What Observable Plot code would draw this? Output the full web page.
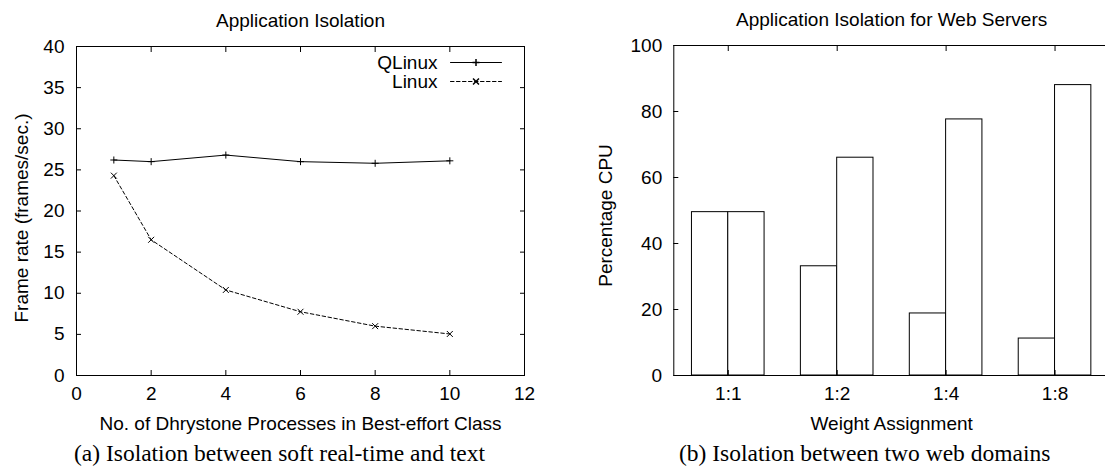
<!DOCTYPE html>
<html><head><meta charset="utf-8">
<script src="https://cdn.jsdelivr.net/npm/d3@7"></script>
<script src="https://cdn.jsdelivr.net/npm/@observablehq/plot@0.6"></script>
<style>
html,body{margin:0;padding:0;background:#fff;overflow:hidden;}
#wrap{position:relative;width:1105px;height:469px;overflow:hidden;background:#fff;}
#a,#b{position:absolute;top:0;width:560px;height:469px;}
#a{left:0;} #b{left:560px;}
#a svg,#b svg{max-width:none !important;display:block;}
</style></head><body><div id="wrap"><div id="a"></div><div id="b"></div></div>
<script>
// ---- Chart (a) data ----
const processes = [1, 2, 4, 6, 8, 10];
const qlinux = [26.2, 26.0, 26.8, 26.0, 25.8, 26.1];
const linux = [24.3, 16.5, 10.4, 7.75, 6.0, 5.05];
const seriesNames = ["QLinux", "Linux"];
const xTicksA = [0, 2, 4, 6, 8, 10, 12];
const yTicksA = [0, 5, 10, 15, 20, 25, 30, 35, 40];

// ---- Chart (b) data ----
const weights = ["1:1", "1:2", "1:4", "1:8"];
const domain1 = [49.5, 33.1, 18.8, 11.2];
const domain2 = [49.5, 66.0, 77.6, 88.0];
const yTicksB = [0, 20, 40, 60, 80, 100];

const SANS = "'Liberation Sans', Arial, Helvetica, sans-serif";
const SERIF = "'Liberation Serif', 'Times New Roman', serif";
const FS = 19;
const CAP = 23.5;
const lineShape = {draw(ctx, l) { ctx.moveTo(0, 0); ctx.lineTo(0, -l); }};
const dash = "3.5,2.5";

function inwardTicks(xt, yt, xFmt) {
  return [
    Plot.axisX(xt, {anchor: "bottom", tickSize: -5, fill: "none", label: null, stroke: "black"}),
    Plot.axisX(xt, {anchor: "top", tickSize: -5, fill: "none", label: null, stroke: "black"}),
    Plot.axisY(yt, {anchor: "left", tickSize: -5, fill: "none", label: null, stroke: "black"}),
    Plot.axisY(yt, {anchor: "right", tickSize: -5, fill: "none", label: null, stroke: "black"}),
    Plot.axisX(xt, {anchor: "bottom", tickSize: 0, tickPadding: 11, fontSize: FS, label: null, tickFormat: xFmt, fill: "black"})
  ];
}

// ---- Chart (a) ----
const rowsQ = processes.map((p, i) => ({x: p, y: qlinux[i]}));
const rowsL = processes.map((p, i) => ({x: p, y: linux[i]}));

const chartA = Plot.plot({
  width: 560, height: 469,
  marginLeft: 76, marginRight: 36, marginTop: 46, marginBottom: 94,
  style: {fontFamily: SANS, fontSize: FS + "px", background: "white", overflow: "visible", color: "black"},
  x: {domain: [0, 12], axis: null},
  y: {domain: [0, 40], axis: null},
  marks: [
    Plot.line(rowsQ, {x: "x", y: "y", stroke: "black", strokeWidth: 1}),
    Plot.line(rowsL, {x: "x", y: "y", stroke: "black", strokeWidth: 1, strokeDasharray: dash}),
    Plot.dot(rowsQ, {x: "x", y: "y", symbol: "plus", r: 2.4, stroke: "black", strokeWidth: 1}),
    Plot.dot(rowsL, {x: "x", y: "y", symbol: "times", r: 2.8, stroke: "black", strokeWidth: 1}),
    ...inwardTicks(xTicksA, yTicksA, d => String(d)),
    Plot.axisY(yTicksA, {anchor: "left", tickSize: 0, tickPadding: 12, fontSize: FS, label: null, fill: "black"}),
    Plot.frame({stroke: "black", strokeWidth: 1}),
    // legend
    Plot.text([seriesNames[0]], {frameAnchor: "top-right", dx: -87, dy: 16, textAnchor: "end", lineAnchor: "middle", fontSize: FS, fill: "black"}),
    Plot.text([seriesNames[1]], {frameAnchor: "top-right", dx: -87, dy: 35, textAnchor: "end", lineAnchor: "middle", fontSize: FS, fill: "black"}),
    Plot.vector([seriesNames[0]], {frameAnchor: "top-right", dx: -48.5, dy: 16, length: 51, rotate: 90, anchor: "middle", shape: lineShape, stroke: "black", strokeWidth: 1}),
    Plot.vector([seriesNames[1]], {frameAnchor: "top-right", dx: -48.5, dy: 35, length: 51, rotate: 90, anchor: "middle", shape: lineShape, stroke: "black", strokeWidth: 1, strokeDasharray: dash}),
    Plot.dot([seriesNames[0]], {frameAnchor: "top-right", dx: -48.5, dy: 16, symbol: "plus", r: 2.4, stroke: "black"}),
    Plot.dot([seriesNames[1]], {frameAnchor: "top-right", dx: -48.5, dy: 35, symbol: "times", r: 2.8, stroke: "black"}),
    // titles
    Plot.text(["Application Isolation"], {frameAnchor: "top", dy: -26, lineAnchor: "middle", fontSize: FS, fill: "black"}),
    Plot.text(["No. of Dhrystone Processes in Best-effort Class"], {frameAnchor: "bottom", dy: 48, lineAnchor: "middle", fontSize: FS, fill: "black"}),
    Plot.text(["Frame rate (frames/sec.)"], {frameAnchor: "left", dx: -55, dy: 7, rotate: -90, textAnchor: "middle", lineAnchor: "middle", fontSize: FS, fill: "black"}),
    Plot.text(["(a) Isolation between soft real-time and text"], {frameAnchor: "bottom", dx: -21, dy: 78, lineAnchor: "middle", fontSize: CAP, fontFamily: SERIF, fill: "black"})
  ]
});
document.getElementById("a").appendChild(chartA);

// ---- Chart (b) ----
const boxWidth = 1 / 3;
const bars1 = weights.map((w, i) => ({i, v: domain1[i]}));
const bars2 = weights.map((w, i) => ({i, v: domain2[i]}));

const chartB = Plot.plot({
  width: 560, height: 469,
  marginLeft: 113.3, marginRight: 11, marginTop: 45, marginBottom: 94,
  style: {fontFamily: SANS, fontSize: FS + "px", background: "white", overflow: "visible", color: "black"},
  x: {domain: [-0.5, 3.5], axis: null},
  y: {domain: [0, 100], axis: null},
  marks: [
    Plot.rect(bars1, {x1: d => d.i - boxWidth, x2: d => d.i, y1: 0, y2: "v", fill: "white", stroke: "black", strokeWidth: 1, inset: 0}),
    Plot.rect(bars2, {x1: d => d.i, x2: d => d.i + boxWidth, y1: 0, y2: "v", fill: "white", stroke: "black", strokeWidth: 1, inset: 0}),
    ...inwardTicks(weights.map((w, i) => i), yTicksB, i => weights[i]),
    Plot.axisY(yTicksB, {anchor: "left", tickSize: 0, tickPadding: 11.6, fontSize: FS, label: null, fill: "black"}),
    Plot.frame({stroke: "black", strokeWidth: 1}),
    Plot.text(["Application Isolation for Web Servers"], {frameAnchor: "top", dy: -26, lineAnchor: "middle", fontSize: FS, fill: "black"}),
    Plot.text(["Weight Assignment"], {frameAnchor: "bottom", dy: 48, lineAnchor: "middle", fontSize: FS, fill: "black"}),
    Plot.text(["Percentage CPU"], {frameAnchor: "left", dx: -68, dy: 5, rotate: -90, textAnchor: "middle", lineAnchor: "middle", fontSize: FS, fill: "black"}),
    Plot.text(["(b) Isolation between two web domains"], {frameAnchor: "bottom", dx: -27, dy: 78, lineAnchor: "middle", fontSize: CAP, fontFamily: SERIF, fill: "black"})
  ]
});
document.getElementById("b").appendChild(chartB);
</script>
</body></html>
